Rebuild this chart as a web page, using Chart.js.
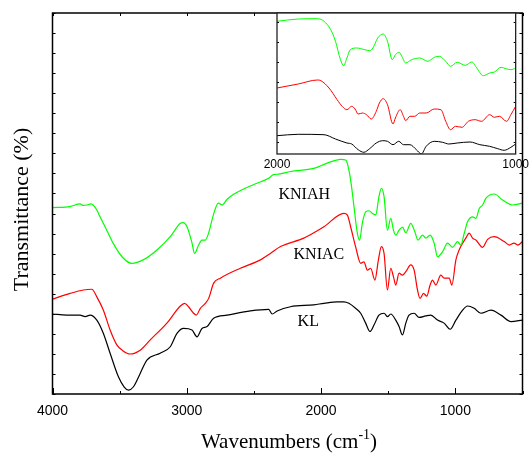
<!DOCTYPE html>
<html>
<head>
<meta charset="utf-8">
<script src="https://cdn.jsdelivr.net/npm/chart.js@4.4.1/dist/chart.umd.min.js"></script>
<style>
  html, body { margin: 0; padding: 0; background: #fff; }
  #contenedor { position: relative; width: 532px; height: 457px; }
  #contenedor canvas { position: absolute; left: 0; top: 0; }
</style>
</head>
<body>
<div id="contenedor">
  <canvas id="grafica" width="532" height="457"></canvas>
  <canvas id="recuadro" width="532" height="457"></canvas>
</div>
<script>
// Espectros completos (número de onda en cm-1, transmitancia en unidades arbitrarias)
const ondaKNIAH = [4000,3869,3795,3770,3743,3713,3670,3646,3596,3549,3474,3409,3325,3222,3123,3048,3028,2998,2961,2942,2912,2887,2862,2837,2802,2765,2737,2700,2651,2501,2390,2355,2317,2228,2054,1954,1854,1817,1805,1780,1755,1730,1713,1693,1668,1643,1618,1593,1569,1551,1531,1506,1481,1461,1444,1419,1394,1369,1332,1302,1278,1245,1220,1188,1158,1133,1096,1058,1021,984,959,934,909,872,847,822,797,772,710,648,573,500];
const transKNIAH = [48.9,49.2,49.9,49.5,49.6,49.9,48.3,46.5,43.0,39.6,35.7,34.3,35.2,37.8,41.3,44.8,45.0,43.9,39.6,36.9,39.1,40.4,40.4,42.3,47.0,50.1,49.6,51.1,52.4,55.0,56.6,57.6,57.7,58.4,59.2,60.6,61.6,61.4,60.6,56.2,49.2,42.2,40.4,44.8,47.8,48.1,47.4,47.0,51.8,54.0,51.8,43.0,46.1,43.0,41.7,43.0,43.8,42.3,44.8,42.6,40.4,41.7,40.9,41.7,39.6,36.0,37.3,39.6,38.5,40.0,39.1,42.2,45.2,46.5,46.1,48.7,49.6,51.4,52.5,50.9,49.6,50.1];

const ondaKNIAC = [4000,3869,3770,3707,3670,3621,3571,3521,3474,3422,3347,3272,3148,3048,3016,2987,2949,2929,2899,2862,2837,2800,2750,2601,2451,2377,2302,2128,2054,1979,1830,1805,1780,1743,1705,1681,1655,1631,1599,1573,1551,1531,1506,1481,1461,1444,1419,1394,1369,1332,1307,1282,1263,1237,1213,1188,1170,1146,1108,1084,1046,1026,996,972,922,897,872,847,797,760,710,636,598,563,535,500];
const transKNIAC = [24.9,26.4,27.3,27.5,25.5,22.0,16.8,12.9,11.3,10.5,11.5,14.2,18.6,23.1,23.8,22.9,21.2,20.7,22.5,23.8,25.1,29.1,30.4,33.0,35.2,36.9,38.7,40.9,42.3,43.9,47.4,47.0,43.9,38.7,34.3,34.7,32.5,33.0,29.9,35.2,38.7,36.9,27.3,33.0,30.8,28.6,31.7,31.2,32.1,33.9,32.5,27.3,25.1,26.4,25.7,28.6,29.9,28.6,31.2,30.4,30.4,28.6,35.2,37.8,40.9,42.2,40.9,40.4,38.5,40.6,41.3,40.0,39.1,39.6,39.1,40.0];

const ondaKL = [4000,3894,3795,3757,3720,3670,3621,3571,3509,3466,3434,3397,3347,3297,3198,3123,3073,3024,2961,2924,2887,2849,2800,2700,2526,2390,2364,2327,2228,2054,1979,1879,1830,1793,1743,1705,1668,1636,1606,1569,1531,1506,1481,1444,1419,1394,1369,1345,1307,1270,1220,1183,1133,1084,1039,996,946,909,860,810,735,660,586,500];
const transKL = [21.0,20.7,20.7,20.3,20.7,19.4,15.9,10.7,4.5,1.8,1.0,1.9,5.4,8.9,10.7,12.4,15.9,17.2,16.8,15.0,17.2,17.7,19.9,20.7,21.8,22.2,21.0,21.8,22.9,23.4,23.8,24.2,24.2,23.8,22.5,21.2,18.6,16.4,18.1,20.7,21.2,20.3,21.0,19.4,17.7,15.5,18.6,20.7,21.2,20.1,20.5,20.7,19.4,18.6,17.0,19.4,22.0,23.1,22.5,21.2,22.0,20.7,19.0,19.4];

// Recuadro ampliado 2000-1000 cm-1
const ondaRecKNIAH = [2000,1911,1830,1803,1775,1755,1734,1721,1707,1693,1666,1632,1612,1598,1578,1555,1537,1517,1504,1488,1477,1461,1436,1402,1368,1341,1320,1293,1273,1245,1211,1184,1163,1136,1109,1089,1061,1041,1020,1000];
const transRecKNIAH = [12.07,12.3,12.33,12.07,11.23,10.07,8.23,7.63,8.4,9.23,9.4,9.23,9.13,9.4,10.4,10.8,10.07,8.23,8.73,8.97,8.57,7.9,8.23,8.4,8.07,8.47,8.57,8.07,7.57,7.97,7.67,8.0,7.4,6.63,6.9,7.0,7.47,7.33,7.23,7.4];

const ondaRecKNIAC = [2000,1911,1830,1816,1782,1748,1727,1707,1687,1673,1660,1642,1625,1605,1584,1571,1555,1537,1514,1504,1484,1470,1461,1443,1423,1402,1375,1341,1313,1293,1273,1252,1225,1198,1170,1143,1109,1089,1068,1038,1020,1000];
const transRecKNIAC = [5.4,5.8,6.2,6.13,5.4,4.23,3.57,3.23,3.57,3.3,2.8,2.9,2.73,2.3,3.07,3.9,4.33,3.73,1.8,2.4,3.23,2.57,2.13,2.57,2.57,2.9,2.9,3.3,3.23,2.07,1.23,1.57,1.47,2.07,2.23,2.07,2.73,2.47,2.57,2.07,2.73,3.57];

const ondaRecKL = [2000,1911,1803,1755,1707,1687,1660,1636,1612,1584,1557,1537,1514,1490,1470,1443,1416,1395,1375,1341,1306,1280,1245,1191,1150,1109,1075,1048,1020,1000];
const transRecKL = [0.63,0.77,0.73,0.3,-0.1,-0.2,-0.77,-1.03,-0.67,-0.1,0.13,0.07,-0.27,0.07,-0.27,-0.27,-0.77,-1.2,-0.43,0.07,-0.03,-0.2,-0.1,0.0,-0.27,-0.43,-0.67,-0.83,-0.53,-0.2];

const nombres = ['KNIAH','KNIAC','KL'];
const colores = ['#00ff00','#ff0000','#000000'];
const marcasX = [4000,3500,3000,2500,2000,1500,1000,500];
const marcasRecX = [2000,1000];
const marcasRecY = [0,2,4,6,8,10,12];

function serie(ondas, valores, color, grosor){
    return {
        data: ondas.map((x, i) => ({ x: x, y: valores[i] })),
        showLine: true,
        borderColor: color,
        borderWidth: grosor,
        pointRadius: 0,
        cubicInterpolationMode: 'monotone',
        fill: false
    };
}

// marco, marcas hacia dentro, títulos y nombres de las curvas
const marcoPrincipal = {
    id: 'marcoPrincipal',
    afterDraw(chart){
        const ctx = chart.ctx;
        const a = chart.chartArea;
        const ex = chart.scales.x, ey = chart.scales.y;
        ctx.save();
        ctx.strokeStyle = '#000';
        ctx.lineWidth = 1;
        ctx.beginPath();
        ex.ticks.forEach(t => {
            const px = Math.round(ex.getPixelForValue(t.value)) + 0.5;
            const largo = t.value % 1000 === 0 ? 6 : 3;
            ctx.moveTo(px, a.bottom); ctx.lineTo(px, a.bottom - largo);
            ctx.moveTo(px, a.top); ctx.lineTo(px, a.top + 3);
        });
        ey.ticks.forEach(t => {
            const py = Math.round(ey.getPixelForValue(t.value)) + 0.5;
            ctx.moveTo(a.left, py); ctx.lineTo(a.left + 3, py);
            ctx.moveTo(a.right, py); ctx.lineTo(a.right - 3, py);
        });
        ctx.stroke();
        ctx.lineWidth = 1.5;
        ctx.strokeRect(a.left, a.top, a.right - a.left, a.bottom - a.top);

        // título eje y
        ctx.fillStyle = '#000';
        ctx.font = '22px "Liberation Serif"';
        ctx.textAlign = 'center';
        ctx.textBaseline = 'middle';
        ctx.save();
        ctx.translate(22, (a.top + a.bottom) / 2 + 6);
        ctx.rotate(-Math.PI / 2);
        ctx.fillText('Transmittance (%)', 0, 0);
        ctx.restore();

        // título eje x con superíndice
        const base = 448;
        const t1 = 'Wavenumbers (cm', t2 = '-1', t3 = ')';
        ctx.textAlign = 'left';
        ctx.textBaseline = 'alphabetic';
        ctx.font = '21px "Liberation Serif"';
        const w1 = ctx.measureText(t1).width, w3 = ctx.measureText(t3).width;
        ctx.font = '14px "Liberation Serif"';
        const w2 = ctx.measureText(t2).width;
        let x0 = 289 - (w1 + w2 + w3) / 2;
        ctx.font = '21px "Liberation Serif"';
        ctx.fillText(t1, x0, base);
        ctx.font = '14px "Liberation Serif"';
        ctx.fillText(t2, x0 + w1, base - 9);
        ctx.font = '21px "Liberation Serif"';
        ctx.fillText(t3, x0 + w1 + w2, base);

        // nombres de las muestras
        const posiciones = [[2317, 52.2], [2205, 36.5], [2175, 18.9]];
        ctx.font = '16px "Liberation Serif"';
        ctx.textBaseline = 'middle';
        nombres.forEach((n, i) => {
            ctx.fillText(n, ex.getPixelForValue(posiciones[i][0]), ey.getPixelForValue(posiciones[i][1]));
        });
        ctx.restore();
    }
};

const marcoRecuadro = {
    id: 'marcoRecuadro',
    beforeDraw(chart){
        const a = chart.chartArea;
        chart.ctx.save();
        chart.ctx.fillStyle = '#fff';
        chart.ctx.fillRect(a.left, a.top, a.right - a.left, a.bottom - a.top);
        chart.ctx.restore();
    },
    afterDraw(chart){
        const ctx = chart.ctx;
        const a = chart.chartArea;
        const ey = chart.scales.y;
        ctx.save();
        ctx.strokeStyle = '#000';
        ctx.lineWidth = 1;
        ctx.beginPath();
        ey.ticks.forEach(t => {
            const py = Math.round(ey.getPixelForValue(t.value)) + 0.5;
            ctx.moveTo(a.left, py); ctx.lineTo(a.left + 2, py);
            ctx.moveTo(a.right, py); ctx.lineTo(a.right - 2, py);
        });
        ctx.stroke();
        ctx.lineWidth = 1.3;
        ctx.strokeStyle = '#222';
        ctx.strokeRect(a.left, a.top, a.right - a.left, a.bottom - a.top);
        ctx.restore();
    }
};

const sinLeyenda = { legend: { display: false }, tooltip: { enabled: false } };

window.grafica = new Chart(document.getElementById('grafica').getContext('2d'), {
    type: 'scatter',
    data: {
        datasets: [
            serie(ondaKNIAH, transKNIAH, colores[0], 1.2),
            serie(ondaKNIAC, transKNIAC, colores[1], 1.2),
            serie(ondaKL, transKL, colores[2], 1.2)
        ]
    },
    options: {
        responsive: false,
        animation: false,
        layout: { padding: { top: 13, right: 9.5, left: 0, bottom: 0 } },
        plugins: sinLeyenda,
        scales: {
            x: {
                type: 'linear', reverse: true, min: 500, max: 4000,
                grid: { display: false, drawTicks: false },
                border: { display: false },
                afterBuildTicks: s => { s.ticks = marcasX.map(v => ({ value: v })); },
                ticks: {
                    autoSkip: false, maxRotation: 0, padding: 9, color: '#000',
                    font: { family: 'Liberation Sans', size: 14 },
                    callback: v => (v % 1000 === 0 ? String(v) : '')
                },
                afterFit: s => { s.height = 63; }
            },
            y: {
                min: 0, max: 100,
                grid: { display: false, drawTicks: false },
                border: { display: false },
                ticks: { display: false },
                afterBuildTicks: s => {
                    const marcas = [];
                    for (let k = 0; k <= 19; k++) marcas.push({ value: k * 100 / 19 });
                    s.ticks = marcas;
                },
                afterFit: s => { s.width = 52.5; }
            }
        }
    },
    plugins: [marcoPrincipal]
});

window.recuadro = new Chart(document.getElementById('recuadro').getContext('2d'), {
    type: 'scatter',
    data: {
        datasets: [
            serie(ondaRecKNIAH, transRecKNIAH, colores[0], 1),
            serie(ondaRecKNIAC, transRecKNIAC, colores[1], 1),
            serie(ondaRecKL, transRecKL, colores[2], 1)
        ]
    },
    options: {
        responsive: false,
        animation: false,
        layout: { padding: { top: 13, right: 10.5, left: 277, bottom: 0 } },
        plugins: sinLeyenda,
        scales: {
            x: {
                type: 'linear', reverse: true, min: 1000, max: 2000,
                grid: { display: false, drawTicks: false },
                border: { display: false },
                afterBuildTicks: s => { s.ticks = marcasRecX.map(v => ({ value: v })); },
                ticks: {
                    autoSkip: false, maxRotation: 0, padding: 3, color: '#000',
                    font: { family: 'Liberation Sans', size: 12 },
                    callback: v => String(v)
                },
                afterFit: s => { s.height = 303; }
            },
            y: {
                min: -1.2, max: 12.9,
                grid: { display: false, drawTicks: false },
                border: { display: false },
                ticks: { display: false },
                afterBuildTicks: s => { s.ticks = marcasRecY.map(v => ({ value: v })); },
                afterFit: s => { s.width = 0; }
            }
        }
    },
    plugins: [marcoRecuadro]
});
</script>
</body>
</html>
